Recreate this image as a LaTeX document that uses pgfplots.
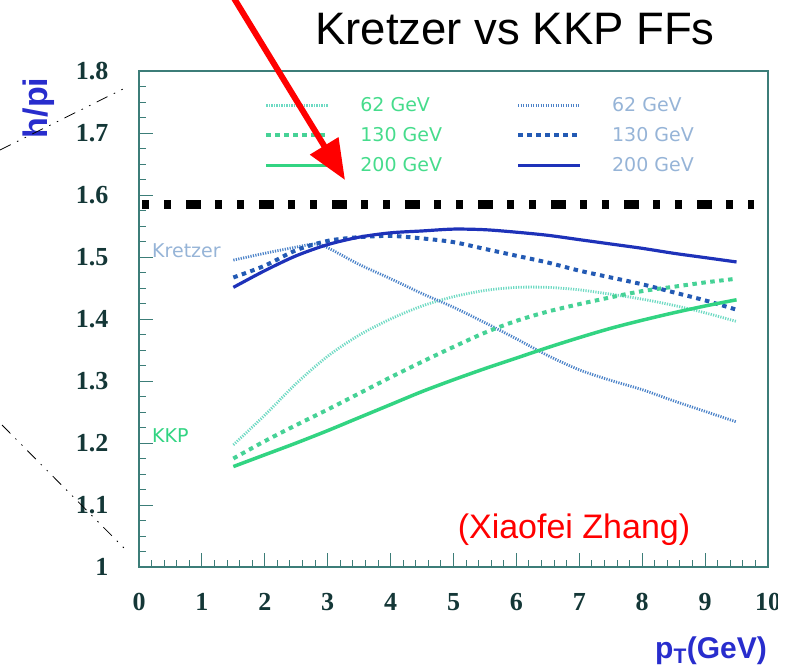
\documentclass[border=0pt]{standalone}
\usepackage{fontspec}
\setmainfont{Liberation Serif}
\newfontfamily\arial{Liberation Sans}
\newfontfamily\dejavu{DejaVu Sans}
\usepackage{pgfplots}
\pgfplotsset{compat=1.18}
\usetikzlibrary{arrows.meta}
\definecolor{framec}{RGB}{60,125,120}
\definecolor{ticklab}{RGB}{20,55,55}
\definecolor{kblue}{RGB}{30,50,185}
\definecolor{kblue2}{RGB}{35,90,180}
\definecolor{kblue3}{RGB}{75,130,200}
\definecolor{kgreen}{RGB}{50,212,130}
\definecolor{kgreen2}{RGB}{70,210,150}
\definecolor{kgreen3}{RGB}{110,218,195}
\definecolor{kgreenlab}{RGB}{70,220,140}
\definecolor{kbluelab}{RGB}{150,180,215}
\definecolor{lblue}{RGB}{40,45,205}
\begin{document}
\begin{tikzpicture}
\path[use as bounding box] (0pt,0pt) rectangle (792pt,-671pt);
\begin{axis}[
  at={(139pt,-567pt)}, anchor=south west,
  width=629pt, height=496pt, scale only axis,
  xmin=0, xmax=10, ymin=1, ymax=1.8,
  xtick={0,1,2,3,4,5,6,7,8,9,10},
  ytick={1,1.1,1.2,1.3,1.4,1.5,1.6,1.7,1.8},
  minor x tick num=4, minor y tick num=3,
  xtick pos=bottom, ytick pos=left,
  tick align=inside,
  major tick length=14pt, minor tick length=7pt,
  every tick/.style={framec, line width=1pt},
  axis line style={framec, line width=2.5pt},
  /pgf/number format/assume math mode=true,
  ticklabel style={font=\fontsize{26}{31}\selectfont\bfseries, text=ticklab},
  xticklabel style={yshift=-23pt},
  yticklabel style={xshift=-27pt},
  legend columns=2,
  legend cell align=left,
  legend image code/.code={\draw[#1] (0pt,0pt) -- (62pt,0pt);},
  legend style={draw=none, fill=none, inner sep=0pt,
    at={(axis cs:1.99,1.761)}, anchor=north west,
    font=\dejavu\fontsize{19}{22}\selectfont,
    row sep=10.5pt,
    /tikz/column 1/.style={column sep=28pt},
    /tikz/column 2/.style={column sep=72pt},
    /tikz/column 3/.style={column sep=28pt}},
]
% KKP 62 GeV
\addplot[kgreen3, line width=2.8pt, dash pattern=on 1.2pt off 1.3pt, smooth] coordinates {
(1.5,1.197)(2,1.245)(2.5,1.296)(3,1.340)(3.5,1.374)(4,1.400)(4.5,1.421)(5,1.436)(5.5,1.446)(6,1.451)(6.5,1.451)(7,1.447)(7.5,1.440)(8,1.432)(8.5,1.422)(9,1.410)(9.5,1.396)};
\addlegendentry{\textcolor{kgreenlab}{62 GeV}}
% Kretzer 62 GeV
\addplot[kblue3, line width=2.8pt, dash pattern=on 1.2pt off 1.3pt, smooth] coordinates {
(1.5,1.495)(2,1.506)(2.5,1.516)(2.8,1.521)(3,1.515)(3.5,1.488)(4,1.465)(4.5,1.441)(5,1.419)(5.5,1.394)(6,1.368)(6.5,1.341)(7,1.318)(7.5,1.301)(8,1.286)(8.5,1.268)(9,1.251)(9.5,1.234)};
\addlegendentry{\textcolor{kbluelab}{62 GeV}}
% KKP 130 GeV
\addplot[kgreen2, line width=4pt, dash pattern=on 4.5pt off 4.5pt, smooth] coordinates {
(1.5,1.175)(2,1.203)(2.5,1.229)(3,1.254)(3.5,1.280)(4,1.306)(4.5,1.331)(5,1.355)(5.5,1.378)(6,1.397)(6.5,1.412)(7,1.424)(7.5,1.435)(8,1.445)(8.5,1.452)(9,1.459)(9.5,1.465)};
\addlegendentry{\textcolor{kgreenlab}{130 GeV}}
% Kretzer 130 GeV
\addplot[kblue2, line width=4pt, dash pattern=on 4.5pt off 4.5pt, smooth] coordinates {
(1.5,1.467)(2,1.486)(2.5,1.511)(3,1.526)(3.5,1.532)(4,1.534)(4.5,1.530)(5,1.524)(5.5,1.513)(6,1.502)(6.5,1.491)(7,1.478)(7.5,1.467)(8,1.456)(8.5,1.443)(9,1.430)(9.5,1.415)};
\addlegendentry{\textcolor{kbluelab}{130 GeV}}
% KKP 200 GeV
\addplot[kgreen, line width=3.5pt, smooth] coordinates {
(1.5,1.162)(2,1.181)(2.5,1.200)(3,1.220)(3.5,1.241)(4,1.262)(4.5,1.283)(5,1.302)(5.5,1.320)(6,1.337)(6.5,1.354)(7,1.370)(7.5,1.385)(8,1.398)(8.5,1.410)(9,1.421)(9.5,1.431)};
\addlegendentry{\textcolor{kgreenlab}{200 GeV}}
% Kretzer 200 GeV
\addplot[kblue, line width=3.2pt, smooth] coordinates {
(1.5,1.451)(2,1.478)(2.5,1.502)(3,1.520)(3.5,1.532)(4,1.539)(4.5,1.542)(5,1.545)(5.5,1.544)(6,1.540)(6.5,1.535)(7,1.528)(7.5,1.521)(8,1.514)(8.5,1.506)(9,1.499)(9.5,1.492)};
\addlegendentry{\textcolor{kbluelab}{200 GeV}}
% black dash-dot reference line
\addplot[black, line width=9pt, dash pattern=on 7pt off 15pt on 7pt off 15pt on 15pt off 14pt, forget plot] coordinates {(0.048,1.584)(9.77,1.584)};
\end{axis}
% the reference picture is cut just right of the "10" tick label
\fill[white] (778pt,-580pt) rectangle (792pt,-625pt);
% labels inside plot
\node[anchor=base west, inner sep=0pt, text=kbluelab, font=\dejavu\fontsize{19}{22}\selectfont] at (152pt,-257pt) {Kretzer};
\node[anchor=base west, inner sep=0pt, text=kgreen, font=\dejavu\fontsize{19}{22}\selectfont] at (152pt,-442pt) {KKP};
% title
\node[anchor=base, inner sep=0pt, font=\arial\fontsize{45.5}{54}\selectfont] at (515pt,-45pt) {Kretzer vs KKP FFs};
% author
\node[anchor=base, inner sep=0pt, text=red, font=\arial\fontsize{34}{40}\selectfont] at (574pt,-538pt) {(Xiaofei Zhang)};
% axis titles
\node[rotate=90, inner sep=0pt, text=lblue, font=\arial\bfseries\fontsize{34}{40}\selectfont] at (39pt,-108pt) {h/pi};
\node[anchor=base, inner sep=0pt, text=lblue, font=\arial\bfseries\fontsize{30}{36}\selectfont] at (711pt,-658pt) {p\textsubscript{T}(GeV)};
% red arrow
\draw[red, line width=6pt, -{Triangle[width=32pt,length=40pt]}] (232pt,5pt) -- (345pt,-180pt);
% thin black dash-dot lines on the left
\draw[black, line width=0.8pt, dash pattern=on 12pt off 7pt on 1.5pt off 7pt on 1.5pt off 7pt] (0pt,-150pt) -- (125pt,-88pt);
\draw[black, line width=0.8pt, dash pattern=on 12pt off 7pt on 1.5pt off 7pt on 1.5pt off 7pt] (2pt,-425pt) -- (124pt,-548pt);
\end{tikzpicture}
\end{document}
